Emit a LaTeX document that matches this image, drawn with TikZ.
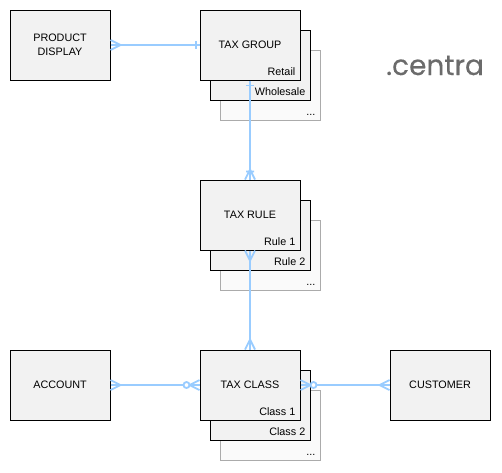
\documentclass[tikz,border=0pt]{standalone}
\usepackage{fontspec}
\setmainfont{Liberation Sans}
\newfontfamily\logofont[FakeBold=0.4]{Poppins}
\usetikzlibrary{arrows.meta}

\definecolor{linkblue}{HTML}{99CCFF}
\definecolor{boxfill}{HTML}{F2F2F2}
\definecolor{ghostfill}{HTML}{FAFAFA}
\definecolor{ghostline}{HTML}{ABABAB}
\definecolor{logogray}{HTML}{6B6B6B}

% foot of lines at the box, apex away from it
\newcommand{\footpath}[1]{%
\pgfpathmoveto{\pgfqpoint{-#1}{0pt}}\pgfpathlineto{\pgfqpoint{0pt}{5pt}}%
\pgfpathmoveto{\pgfqpoint{-#1}{0pt}}\pgfpathlineto{\pgfqpoint{0pt}{-5pt}}}
\newcommand{\barpath}[1]{%
\pgfpathmoveto{\pgfqpoint{-#1}{4pt}}\pgfpathlineto{\pgfqpoint{-#1}{-4pt}}}

\pgfdeclarearrow{name=Crow, parameters={\the\pgflinewidth},
  setup code={\pgfarrowssettipend{0pt}\pgfarrowssetlineend{0pt}\pgfarrowssetvisualbackend{-10pt}},
  drawing code={\pgfsetdash{}{0pt}\footpath{10pt}\pgfusepathqstroke}}
\pgfdeclarearrow{name=CrowBar, parameters={\the\pgflinewidth},
  setup code={\pgfarrowssettipend{0pt}\pgfarrowssetlineend{0pt}\pgfarrowssetvisualbackend{-10pt}},
  drawing code={\pgfsetdash{}{0pt}\footpath{10pt}\barpath{8pt}\pgfusepathqstroke}}
\pgfdeclarearrow{name=CrowRing, parameters={\the\pgflinewidth},
  setup code={\pgfarrowssettipend{0pt}\pgfarrowssetlineend{0pt}\pgfarrowssetvisualbackend{-16pt}},
  drawing code={\pgfsetdash{}{0pt}\footpath{10pt}\pgfusepathqstroke
    \pgfsetfillcolor{white}\pgfpathcircle{\pgfqpoint{-13pt}{0pt}}{3pt}\pgfusepathqfillstroke}}
\pgfdeclarearrow{name=OneBar, defaults={length=5pt}, parameters={\the\pgfarrowlength,\the\pgflinewidth},
  setup code={\pgfarrowssettipend{0pt}\pgfarrowssetlineend{0pt}\pgfarrowssetvisualbackend{-\pgfarrowlength}},
  drawing code={\pgfsetdash{}{0pt}\barpath{\pgfarrowlength}\pgfusepathqstroke}}

\tikzset{
  entity/.style={draw=black, fill=boxfill, line width=1pt, minimum width=100pt, minimum height=70pt,
    inner sep=0pt, align=center, font=\fontsize{10.8}{14}\selectfont},
  ghost/.style={entity, draw=ghostline, fill=ghostfill},
  tag/.style={anchor=south east, inner xsep=5pt, inner ysep=4.5pt, font=\fontsize{10.8}{13}\selectfont},
  link/.style={draw=linkblue, line width=1.8pt},
}

\begin{document}
\begin{tikzpicture}[x=1pt, y=-1pt]
\useasboundingbox (0,0) rectangle (502,472);

\node[entity] (prod) at (60,45) {PRODUCT\\DISPLAY};
\node[entity] (acct) at (60,385) {ACCOUNT};
\node[entity] (cust) at (440,385) {CUSTOMER};

%tax group stack
\node[ghost] (grp3) at (270,85) {};
\node[entity] (grp2) at (260,65) {};
\node[entity] (grp1) at (250,45) {TAX GROUP};
\node[tag] (grpa) at (grp1.south east) {Retail};
\node[tag] (grpb) at (grp2.south east) {Wholesale};
\node[tag] (grpc) at (grp3.south east) {...};

%tax rule stack
\node[ghost] (rule3) at (270,255) {};
\node[entity] (rule2) at (260,235) {};
\node[entity] (rule1) at (250,215) {TAX RULE};
\node[tag] (rulea) at (rule1.south east) {Rule 1};
\node[tag] (ruleb) at (rule2.south east) {Rule 2};
\node[tag] (rulec) at (rule3.south east) {...};

%tax class stack
\node[ghost] (cls3) at (270,425) {};
\node[entity] (cls2) at (260,405) {};
\node[entity] (cls1) at (250,385) {TAX CLASS};
\node[tag] (clsa) at (cls1.south east) {Class 1};
\node[tag] (clsb) at (cls2.south east) {Class 2};
\node[tag] (clsc) at (cls3.south east) {...};

\draw[link, {Crow}-{OneBar[length=3.5pt]}] (prod) -- (grp1);
\draw[link, {OneBar[length=5pt]}-{CrowBar}] (grp1) -- (rule1);
\draw[link, {Crow}-{Crow}] (rule1) -- (cls1);
\draw[link, {Crow}-{CrowRing}] (acct) -- (cls1);
\draw[link, {CrowRing}-{Crow}] (cls1) -- (cust);

\node[anchor=base west, inner sep=0pt, text=logogray, font=\logofont\fontsize{28}{28}\selectfont] (logo) at (386,75) {.centra};
\end{tikzpicture}
\end{document}
